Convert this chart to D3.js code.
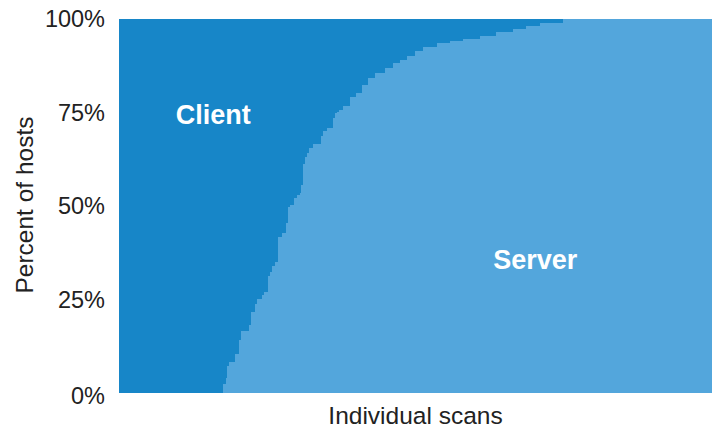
<!DOCTYPE html>
<html>
<head>
<meta charset="utf-8">
<script src="https://cdn.jsdelivr.net/npm/d3@7"></script>
<style>
  body { margin: 0; background: #fff; }
  text { font-family: "Liberation Sans", Arial, Helvetica, sans-serif; }
</style>
</head>
<body>
<script>
// position of each step along the sorted scans (% of all scans)
const scanPosition = [0, 17.5, 18.0, 18.2, 18.5, 19.6, 20.2, 20.6, 21.9, 22.3, 22.9, 23.3, 24.1, 24.5,
    25.1, 25.5, 25.8, 26.3, 26.8, 27.5, 28.2, 28.5, 28.8, 29.5, 30.0, 30.5, 30.7, 31.0, 31.4, 31.7,
    32.0, 32.7, 34.1, 34.4, 35.1, 36.1, 36.4, 36.8, 37.1, 37.8, 38.9, 39.9, 41.0, 42.0, 43.2, 44.9,
    46.2, 47.4, 48.6, 49.9, 51.3, 53.6, 55.8, 58.0, 60.9, 63.6, 66.4, 68.7, 71.0, 74.9, 100]

// server share of hosts at each step (%)
const serverShare = [0, 2.4, 4.0, 7.2, 8.3, 10.4, 14.2, 16.6, 18.2, 21.7, 23.8, 25.1, 26.2, 27.0,
    31.3, 32.4, 34.0, 35.0, 41.7, 42.8, 45.5, 49.7, 50.3, 52.1, 52.9, 53.5, 55.6, 61.2, 63.1, 64.2,
    65.5, 66.6, 68.7, 70.1, 70.9, 73.5, 74.9, 75.1, 75.7, 76.7, 79.1, 80.2, 82.4, 84.2, 85.6, 86.9,
    88.2, 89.0, 90.1, 91.4, 92.5, 93.6, 94.1, 94.7, 95.5, 96.5, 97.3, 98.2, 98.9, 100, 100]

const yTicks = [0, 25, 50, 75, 100]
const seriesKeys = ['server', 'client']
const seriesNames = {server: 'Server', client: 'Client'}
const seriesColors = {server: '#53a6dc', client: '#1786c8'}

const w = 723
const h = 428
const margin = {top: 19, right: 11, bottom: 35, left: 119}

const rows = scanPosition.map((s, i) => ({scan: s, server: serverShare[i], client: 100 - serverShare[i]}))

const svg = d3.select('body').append('svg')
    .attr('width', w)
    .attr('height', h)

const x = d3.scaleLinear()
    .domain([0, 100])
    .range([margin.left, w - margin.right])

const y = d3.scaleLinear()
    .domain([0, 100])
    .range([h - margin.bottom, margin.top])

const stacked = d3.stack().keys(seriesKeys)(rows)

const area = d3.area()
    .curve(d3.curveStepAfter)
    .x(d => x(d.data.scan))
    .y0(d => y(d[0]))
    .y1(d => y(d[1]))

svg.append('g').selectAll('path')
    .data(stacked)
    .enter()
    .append('path')
        .attr('d', area)
        .attr('fill', d => seriesColors[d.key])
        .attr('shape-rendering', 'crispEdges')

const yAxis = svg.append('g')
    .attr('transform', `translate(${margin.left}, 0)`)
    .call(d3.axisLeft(y).tickValues(yTicks).tickFormat(d => d + '%').tickSize(0).tickPadding(14))

yAxis.select('.domain').remove()
yAxis.selectAll('text')
    .attr('fill', '#222')
    .style('font-size', '23.5px')
    .attr('dy', d => (d === 0 ? '0.46em' : '0.33em'))

svg.append('text')
    .attr('transform', `translate(33, 205) rotate(-90)`)
    .attr('text-anchor', 'middle')
    .attr('fill', '#222')
    .style('font-size', '24.5px')
    .text('Percent of hosts')

svg.append('text')
    .attr('x', x(50))
    .attr('y', 424)
    .attr('text-anchor', 'middle')
    .attr('fill', '#222')
    .style('font-size', '24.5px')
    .text('Individual scans')

// series labels inside the areas
const labelSpots = [{key: 'client', scan: 15.9, value: 71.9}, {key: 'server', scan: 70.2, value: 33.2}]

svg.append('g').selectAll('text')
    .data(labelSpots)
    .enter()
    .append('text')
        .attr('x', d => x(d.scan))
        .attr('y', d => y(d.value))
        .attr('text-anchor', 'middle')
        .attr('fill', '#fff')
        .style('font-size', '27px')
        .style('font-weight', 'bold')
        .text(d => seriesNames[d.key])
</script>
</body>
</html>
